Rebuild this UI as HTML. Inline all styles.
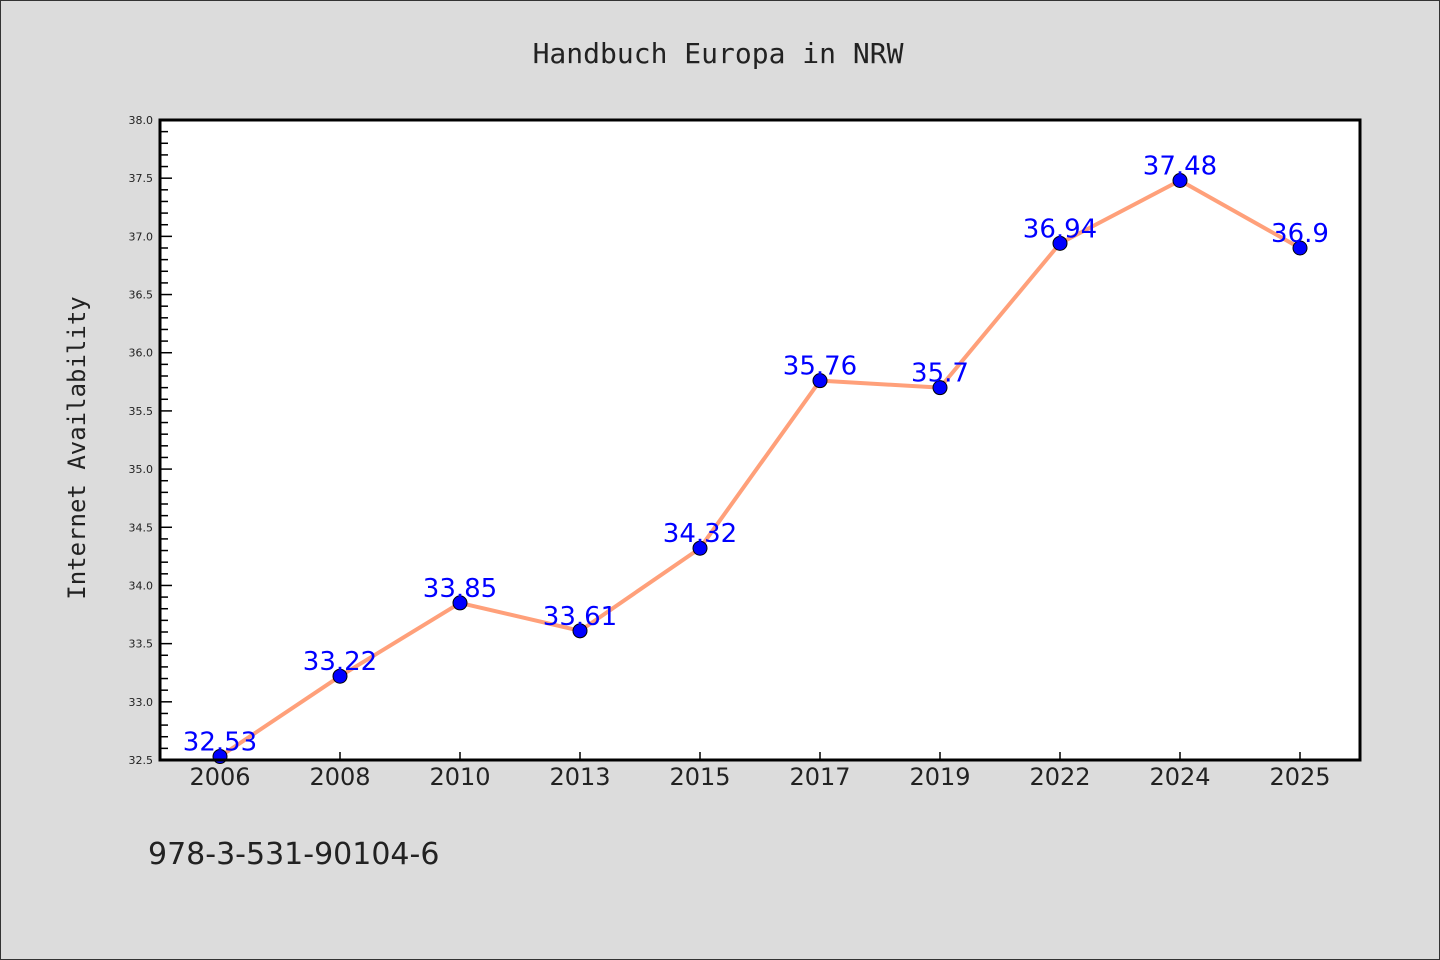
<!DOCTYPE html>
<html><head><meta charset="utf-8"><style>
html,body{margin:0;padding:0;}
body{width:1440px;height:960px;background:#dcdcdc;overflow:hidden;}
svg{display:block;}
</style></head><body>
<svg width="1440" height="960" xmlns="http://www.w3.org/2000/svg" id="chart">
<rect x="0.5" y="0.5" width="1439" height="959" fill="#dcdcdc" stroke="#333" stroke-width="1"/>
<text x="718" y="63" text-anchor="middle" font-family="DejaVu Sans Mono, Liberation Mono, monospace" font-size="28" fill="#222">Handbuch Europa in NRW</text>
<text transform="translate(85,448) rotate(-90)" text-anchor="middle" font-family="DejaVu Sans Mono, Liberation Mono, monospace" font-size="24" fill="#222">Internet Availability</text>
<text x="148" y="864" font-family="DejaVu Sans, Liberation Sans, sans-serif" font-size="30" fill="#222">978-3-531-90104-6</text>
<rect x="160" y="120" width="1200" height="640" fill="#fff"/>
<g id="axes"></g>
<g id="marks"></g>
<rect x="160" y="120" width="1200" height="640" fill="none" stroke="#000" stroke-width="3"/>
</svg>
<script>
const categories = ["2006","2008","2010","2013","2015","2017","2019","2022","2024","2025"];
const values = [32.53,33.22,33.85,33.61,34.32,35.76,35.7,36.94,37.48,36.9];
const labels = ["32.53","33.22","33.85","33.61","34.32","35.76","35.7","36.94","37.48","36.9"];
const yTicks = ["32.5","33.0","33.5","34.0","34.5","35.0","35.5","36.0","36.5","37.0","37.5","38.0"];
const yMin = 32.5, yMax = 38.0;
const L=160,T=120,W=1200,H=640;
const NS="http://www.w3.org/2000/svg";
function x(i){return L+W/categories.length*(i+0.5);}
function y(v){return T+H-(v-yMin)/(yMax-yMin)*H;}
function mk(tag,attrs,parent){const e=document.createElementNS(NS,tag);for(const k in attrs)e.setAttribute(k,attrs[k]);parent.appendChild(e);return e;}
const axes=document.getElementById('axes'),marks=document.getElementById('marks');
for(let k=0;k<=Math.round((yMax-yMin)*10);k++){
  const v=yMin+k*0.1, major=k%5===0;
  const t=mk('line',{x1:L,x2:L+(major?12:8),y1:y(v),y2:y(v),stroke:'#000','stroke-width':1.5},axes);
  
  
}
yTicks.forEach(s=>{
  const t=mk('text',{x:L-7,y:y(parseFloat(s))+4,'text-anchor':'end','font-family':'DejaVu Sans, Liberation Sans, sans-serif','font-size':11,fill:'#222'},axes);
  t.textContent=s;
  
  
});
categories.forEach((c,i)=>{
  const tk=mk('line',{x1:x(i),x2:x(i),y1:T+H,y2:T+H-8,stroke:'#000','stroke-width':1.5},axes);
  
  
  const t=mk('text',{x:x(i),y:T+H+25,'text-anchor':'middle','font-family':'DejaVu Sans, Liberation Sans, sans-serif','font-size':24,fill:'#222'},axes);
  t.textContent=c;
  
  
});
const pts=values.map((v,i)=>x(i)+','+y(v)).join(' ');
const line=mk('polyline',{points:pts,fill:'none',stroke:'#ffa07a','stroke-width':4,'stroke-linejoin':'round'},marks);


values.forEach((v,i)=>{
  const c=mk('circle',{cx:x(i),cy:y(v),r:7,fill:'#0000ff',stroke:'#000','stroke-width':1},marks);
  
  
  const t=mk('text',{x:x(i),y:y(v)-6,'text-anchor':'middle','font-family':'DejaVu Sans, Liberation Sans, sans-serif','font-size':26,fill:'#0000ff'},marks);
  t.textContent=labels[i];
  
  
});
</script>
</body></html>
